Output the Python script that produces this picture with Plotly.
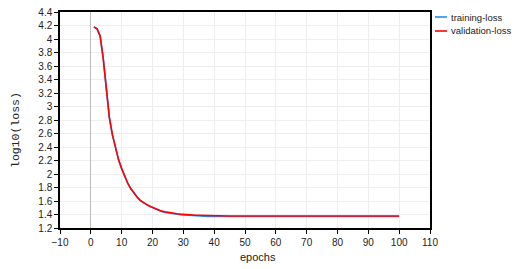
import plotly.graph_objects as go

epochs = list(range(1, 101))

validation_loss = [
    4.18, 4.15, 4.05, 3.72, 3.28, 2.84, 2.58, 2.38, 2.21, 2.08,
    1.96, 1.86, 1.78, 1.71, 1.66, 1.61, 1.575, 1.55, 1.525, 1.505,
    1.485, 1.465, 1.45, 1.44, 1.43, 1.42, 1.415, 1.41, 1.405, 1.40,
    1.397, 1.394, 1.392, 1.39, 1.388, 1.386, 1.385, 1.384, 1.383, 1.382,
    1.381, 1.380, 1.379, 1.379, 1.378, 1.378, 1.378, 1.378, 1.378, 1.378,
    1.378, 1.378, 1.378, 1.378, 1.378, 1.378, 1.378, 1.378, 1.378, 1.378,
    1.378, 1.378, 1.378, 1.378, 1.378, 1.378, 1.378, 1.378, 1.378, 1.378,
    1.378, 1.378, 1.378, 1.378, 1.378, 1.378, 1.378, 1.378, 1.378, 1.378,
    1.378, 1.378, 1.378, 1.378, 1.378, 1.378, 1.378, 1.378, 1.378, 1.378,
    1.378, 1.378, 1.378, 1.378, 1.378, 1.378, 1.378, 1.378, 1.378, 1.378,
]

training_loss = [
    4.18, 4.15, 4.05, 3.72, 3.28, 2.84, 2.58, 2.38, 2.21, 2.08,
    1.96, 1.86, 1.78, 1.71, 1.66, 1.61, 1.575, 1.55, 1.52, 1.50,
    1.48, 1.458, 1.443, 1.432, 1.422, 1.413, 1.408, 1.403, 1.398, 1.394,
    1.39, 1.387, 1.384, 1.381, 1.376, 1.372, 1.371, 1.370, 1.370, 1.370,
    1.370, 1.370, 1.370, 1.370, 1.370, 1.378, 1.378, 1.378, 1.378, 1.378,
    1.378, 1.378, 1.378, 1.378, 1.378, 1.378, 1.378, 1.378, 1.378, 1.378,
    1.378, 1.378, 1.378, 1.378, 1.378, 1.378, 1.378, 1.378, 1.378, 1.378,
    1.378, 1.378, 1.378, 1.378, 1.378, 1.378, 1.378, 1.378, 1.378, 1.378,
    1.378, 1.378, 1.378, 1.378, 1.370, 1.370, 1.370, 1.370, 1.370, 1.370,
    1.370, 1.370, 1.370, 1.370, 1.370, 1.370, 1.370, 1.370, 1.370, 1.370,
]

series_names = ["training-loss", "validation-loss"]
series_colors = ["#1e8fff", "#ff0000"]

W, H = 517, 269
ML, MR, MT, MB = 60, 87, 12, 41
PW, PH = W - ML - MR, H - MT - MB


def px_x(p):
    return (p - ML) / PW


def px_y(p):
    return (H - MB - p) / PH


fig = go.Figure()
for name, color, vals in zip(series_names, series_colors, [training_loss, validation_loss]):
    fig.add_trace(go.Scatter(x=epochs, y=vals, mode="lines", name=name,
                             line=dict(color=color, width=1.6), showlegend=False))

sans = "Liberation Sans, Arial, sans-serif"
tickfont = dict(family=sans, size=10, color="#222")

shapes = []
annotations = []
for i, (name, color) in enumerate(zip(series_names, series_colors)):
    yy = 17 + 14 * i
    shapes.append(dict(type="line", xref="paper", yref="paper",
                       x0=px_x(435), x1=px_x(447), y0=px_y(yy), y1=px_y(yy),
                       line=dict(color=color, width=1.6)))
    annotations.append(dict(text=name, xref="paper", yref="paper", x=px_x(449), y=px_y(yy),
                            xanchor="left", yanchor="middle", showarrow=False,
                            font=dict(family=sans, size=9.5, color="#222")))

annotations.append(dict(text="epochs", xref="paper", yref="paper", x=px_x(258), y=px_y(257),
                        xanchor="center", yanchor="middle", showarrow=False,
                        font=dict(family=sans, size=11, color="#222")))
annotations.append(dict(text="log10(loss)", xref="paper", yref="paper", x=px_x(15), y=px_y(130),
                        xanchor="center", yanchor="middle", showarrow=False, textangle=-90,
                        font=dict(family="Liberation Mono, DejaVu Sans Mono, monospace", size=11.5, color="#222")))

fig.update_layout(
    width=W, height=H,
    margin=dict(l=ML, r=MR, t=MT, b=MB, autoexpand=False),
    paper_bgcolor="white", plot_bgcolor="white",
    showlegend=False,
    shapes=shapes,
    annotations=annotations,
    xaxis=dict(
        range=[-10, 110], tickmode="linear", tick0=-10, dtick=10,
        showgrid=True, gridcolor="#eeeeee", gridwidth=1,
        zeroline=True, zerolinecolor="#bbbbbb", zerolinewidth=1,
        showline=True, linecolor="black", linewidth=1.5, mirror=True,
        ticks="outside", ticklen=4, tickcolor="black",
        tickfont=tickfont,
    ),
    yaxis=dict(
        range=[1.2, 4.4], tickmode="linear", tick0=1.2, dtick=0.2,
        showgrid=True, gridcolor="#eeeeee", gridwidth=1,
        zeroline=False,
        showline=True, linecolor="black", linewidth=1.5, mirror=True,
        ticks="outside", ticklen=4, tickcolor="black",
        tickfont=tickfont,
    ),
)

fig.write_html("out.html")
